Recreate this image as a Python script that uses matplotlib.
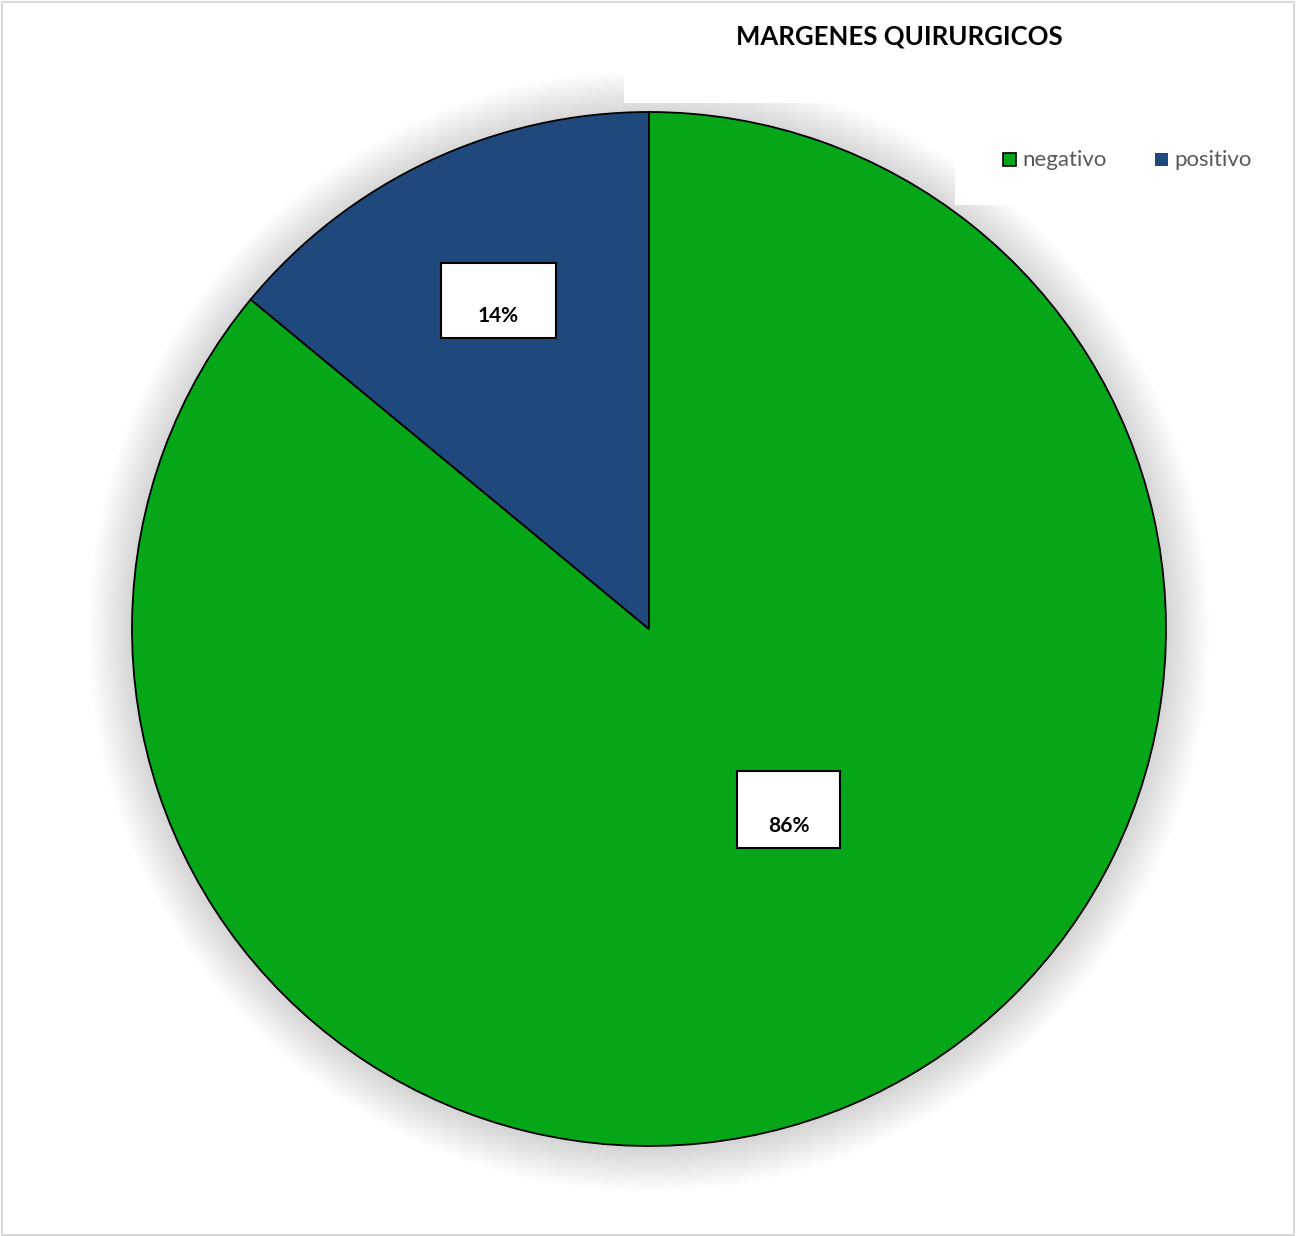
import numpy as np
import matplotlib
matplotlib.use("Agg")
import matplotlib.pyplot as plt
from matplotlib.patches import Rectangle, Circle

plt.rcParams['font.family'] = ['Lato', 'DejaVu Sans']

categories = ["negativo", "positivo"]
shares = [86, 14]
colors = ["#05A718", "#1F497D"]
title = "MARGENES QUIRURGICOS"

W, H = 1298, 1236
fig = plt.figure(figsize=(W / 100, H / 100), dpi=100)
ax = fig.add_axes([0, 0, 1, 1])

cx, cy, R = 649, H - 629, 517

# soft drop shadow behind the pie
for i in range(42):
    r = R + 44 - i * 1.05
    ax.add_patch(Circle((cx, cy - 2), r, facecolor="#000000", edgecolor="none",
                        alpha=0.0028, zorder=0))

# white panels behind title and legend
ax.add_patch(Rectangle((624, H - 103), 674, 103, facecolor="white", edgecolor="none", zorder=1))
ax.add_patch(Rectangle((955, H - 205), 343, 102, facecolor="white", edgecolor="none", zorder=1))

wedges, _ = ax.pie(shares, colors=colors, startangle=90, counterclock=False,
                   center=(cx, cy), radius=R, frame=True,
                   wedgeprops=dict(edgecolor="black", linewidth=1.3, zorder=2))
for w in wedges:
    w.set_zorder(2)

# percentage labels in boxed callouts
label_boxes = [(737, 771, 103, 77), (441, 263, 115, 75)]
for (x0, y0, bw, bh), v in zip(label_boxes, shares):
    ax.add_patch(Rectangle((x0, H - y0 - bh), bw, bh, facecolor="white",
                           edgecolor="black", linewidth=1.5, zorder=3))
    ax.text(x0 + bw / 2, H - y0 - bh + 22, f"{v}%", ha="center", va="center",
            fontsize=15, fontweight="bold", color="black", zorder=4)

ax.text(899, H - 36, title, ha="center", va="center", fontsize=18.5,
        fontweight="bold", color="black", zorder=4)

# legend
leg_x = [1003, 1155]
for x, c, name in zip(leg_x, colors, categories):
    ax.add_patch(Rectangle((x, H - 166), 13, 13, facecolor=c,
                           edgecolor="black" if name == "negativo" else "none",
                           linewidth=1.2, zorder=4))
    ax.text(x + 19, H - 160, name, ha="left", va="center", fontsize=16,
            color="#595959", zorder=4)

# outer border
ax.add_patch(Rectangle((1.5, 1.5), W - 6, H - 3, facecolor="none",
                       edgecolor="#d9d9d9", linewidth=1.5, zorder=5))

ax.set_xlim(0, W)
ax.set_ylim(0, H)
ax.set_aspect("auto")
ax.axis("off")

fig.savefig("out.png", dpi=100, facecolor="white")
